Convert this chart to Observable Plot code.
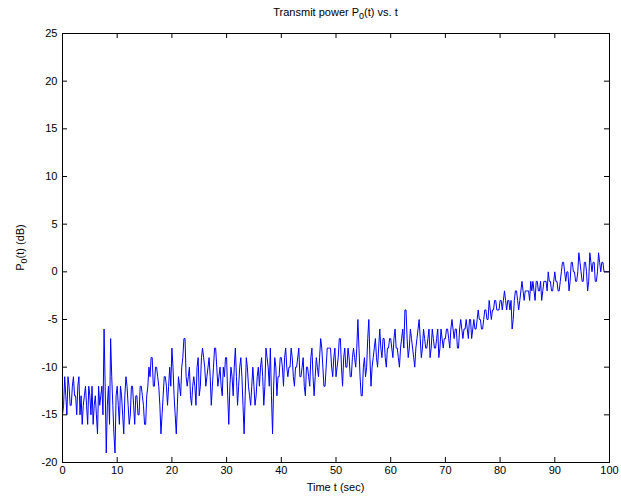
<!DOCTYPE html>
<html>
<head>
<meta charset="utf-8">
<script src="https://cdn.jsdelivr.net/npm/d3@7"></script>
<script src="https://cdn.jsdelivr.net/npm/@observablehq/plot@0.6"></script>
<style>
  html, body { margin: 0; padding: 0; background: #fff; }
  #chart svg { display: block; }
</style>
</head>
<body>
<div id="chart"></div>
<script>
// Sampling of the time axis (seconds)
const tStart = 0;
const tStep = 0.2;
// Transmit power P0(t) in dB
const power = [
  // 0 – 10 s
  -15, -14, -11, -13, -15, -11, -12, -14, -14, -12, -11, -13, -13, -15, -12, -11, -15, -13, -16, -14,
  -13, -12, -14, -16, -12, -13, -15, -12, -16, -14, -13, -15, -17, -12, -14, -13, -12, -15, -6, -12,
  -19, -14, -12, -16, -7, -11, -14, -17, -19, -13,
  // 10 – 20 s
  -12, -14, -16, -12, -13, -15, -17, -13, -11, -12, -14, -16, -15, -12, -12, -14, -16, -13, -13, -15,
  -15, -12, -12, -13, -14, -16, -16, -13, -12, -10, -11, -9, -9, -12, -12, -10, -10, -11, -12, -14,
  -17, -15, -13, -11, -11, -12, -14, -12, -10, -12,
  // 20 – 30 s
  -8, -10, -13, -15, -17, -14, -11, -12, -13, -10, -9, -7, -7, -11, -12, -11, -10, -13, -14, -12,
  -11, -12, -14, -10, -9, -13, -12, -9, -8, -9, -10, -12, -11, -10, -9, -11, -14, -12, -10, -8,
  -8, -10, -12, -11, -10, -12, -13, -10, -11, -9,
  // 30 – 40 s
  -9, -13, -16, -12, -10, -11, -13, -10, -8, -11, -14, -12, -10, -9, -11, -14, -17, -13, -9, -10,
  -12, -13, -14, -12, -10, -12, -14, -13, -11, -10, -12, -10, -9, -11, -14, -12, -8, -9, -10, -12,
  -8, -13, -17, -12, -9, -10, -13, -11, -11, -9,
  // 40 – 50 s
  -9, -10, -12, -9, -8, -10, -11, -10, -10, -8, -9, -11, -12, -10, -10, -9, -8, -11, -11, -10,
  -9, -12, -13, -10, -10, -11, -12, -9, -8, -11, -13, -11, -9, -10, -11, -9, -7, -8, -10, -12,
  -12, -10, -8, -8, -8, -8, -10, -11, -9, -8,
  // 50 – 60 s
  -11, -10, -9, -7, -7, -10, -12, -9, -8, -10, -10, -8, -9, -11, -11, -9, -8, -9, -10, -8,
  -5, -8, -11, -13, -13, -10, -9, -11, -10, -7, -5, -9, -12, -10, -9, -8, -7, -9, -10, -8,
  -6, -8, -9, -7, -7, -9, -10, -8, -8, -7,
  // 60 – 70 s
  -7, -8, -9, -7, -6, -8, -8, -9, -10, -8, -7, -6, -8, -4, -4, -7, -9, -8, -6, -7,
  -8, -9, -10, -8, -7, -6, -5, -7, -9, -8, -6, -7, -8, -8, -7, -6, -9, -8, -6, -7,
  -8, -8, -7, -6, -9, -8, -6, -7, -8, -7,
  // 70 – 80 s
  -7, -6, -6, -7, -8, -6, -5, -6, -7, -6, -6, -8, -8, -6, -5, -6, -7, -6, -6, -5,
  -6, -7, -5, -5, -7, -6, -5, -6, -6, -5, -4, -5, -5, -6, -6, -5, -4, -4, -5, -5,
  -3, -4, -5, -4, -4, -3, -3, -4, -4, -4,
  // 80 – 90 s
  -3, -3, -4, -3, -2, -3, -4, -3, -3, -4, -3, -6, -5, -3, -2, -2, -3, -4, -3, -2,
  -1, -2, -3, -2, -2, -2, -2, -3, -1, -2, -1, -2, -3, -1, -1, -2, -2, -1, -3, -2,
  -1, -1, -1, -2, 0, -1, -1, -2, -2, -1,
  // 90 – 100 s
  0, -1, -1, -2, -2, -1, 0, 1, 1, 0, -1, 0, 0, -2, -1, 1, 1, 0, 0, -1,
  -1, 0, 2, 1, 0, -1, -1, 1, 1, 0, -2, -1, 2, 1, 0, 1, 1, -1, -1, 0,
  2, 1, 0, 1, 1, 0, 0, 0, 0, 0, 0
];
const xTicks = [0, 10, 20, 30, 40, 50, 60, 70, 80, 90, 100];
const yTicks = [-20, -15, -10, -5, 0, 5, 10, 15, 20, 25];

const data = power.map((p, i) => ({t: tStart + i * tStep, p}));

const W = 621, H = 502;
const mL = 62, mR = 12, mT = 33, mB = 40;
const fw = W - mL - mR, fh = H - mT - mB;
const font = "'Liberation Sans', Arial, Helvetica, sans-serif";

const chart = Plot.plot({
  width: W,
  height: H,
  marginLeft: mL,
  marginRight: mR,
  marginTop: mT,
  marginBottom: mB,
  style: {fontFamily: font, fontSize: "11px", background: "#fff", color: "#000"},
  x: {domain: [0, 100], label: null},
  y: {domain: [-20, 25], label: null},
  marks: [
    Plot.line(data, {x: "t", y: "p", stroke: "#0000ff", strokeWidth: 1}),
    // inward ticks on all four sides
    Plot.tickX(xTicks, {x: d => d, insetTop: fh - 5, stroke: "#000"}),
    Plot.tickX(xTicks, {x: d => d, insetBottom: fh - 5, stroke: "#000"}),
    Plot.tickY(yTicks, {y: d => d, insetRight: fw - 5, stroke: "#000"}),
    Plot.tickY(yTicks, {y: d => d, insetLeft: fw - 5, stroke: "#000"}),
    Plot.frame({stroke: "#000"}),
    Plot.axisX(xTicks, {anchor: "bottom", tickSize: 0, tickPadding: 4, tickFormat: d => String(d), fontSize: 11, label: null}),
    Plot.axisY(yTicks, {anchor: "left", tickSize: 0, tickPadding: 5, tickFormat: d => String(d), fontSize: 11, label: null})
  ]
});

document.getElementById("chart").appendChild(chart);

// Titles with subscripts
const svg = d3.select(chart);
const cx = mL + fw / 2;
const title = svg.append("text")
  .attr("x", cx).attr("y", 16)
  .attr("text-anchor", "middle")
  .style("font-family", font).style("font-size", "11px").attr("fill", "#000");
title.append("tspan").text("Transmit power P");
title.append("tspan").attr("dy", 3).style("font-size", "9px").text("0");
title.append("tspan").attr("dy", -3).text("(t) vs. t");

svg.append("text")
  .attr("x", cx).attr("y", 491)
  .attr("text-anchor", "middle")
  .style("font-family", font).style("font-size", "11px").attr("fill", "#000")
  .text("Time t (sec)");

const yl = svg.append("text")
  .attr("transform", `translate(24,${mT + fh / 2}) rotate(-90)`)
  .attr("text-anchor", "middle")
  .style("font-family", font).style("font-size", "11px").attr("fill", "#000");
yl.append("tspan").text("P");
yl.append("tspan").attr("dy", 3).style("font-size", "9px").text("0");
yl.append("tspan").attr("dy", -3).text("(t) (dB)");
</script>
</body>
</html>
